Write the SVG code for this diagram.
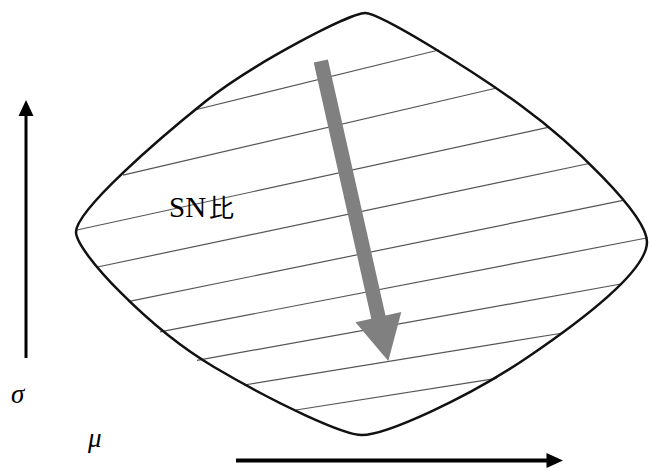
<svg xmlns="http://www.w3.org/2000/svg" width="649" height="469" viewBox="0 0 649 469">
  <style>
    .outline { fill: none; stroke: #111; stroke-width: 2.5; stroke-linejoin: round; }
    .hatch { stroke: #555; stroke-width: 1.2; fill: none; }
    .axis { stroke: #000; fill: none; }
    .lbl { font-family: "Liberation Serif", "Noto Sans CJK JP", serif; fill: #000; }
    .greek { font-family: "Liberation Serif", "DejaVu Serif", serif; font-style: italic; fill: #000; }
  </style>
  <rect x="0" y="0" width="649" height="469" fill="#fff"/>
  <g id="region">
    <g id="hatching">
      <line class="hatch" x1="194.5" y1="110" x2="438.7" y2="50"/>
      <line class="hatch" x1="123" y1="175.2" x2="496.7" y2="88"/>
      <line class="hatch" x1="77" y1="230" x2="548" y2="127.4"/>
      <line class="hatch" x1="97.5" y1="267" x2="589" y2="163.5"/>
      <line class="hatch" x1="128" y1="301.7" x2="623" y2="200.4"/>
      <line class="hatch" x1="160" y1="331.9" x2="646.5" y2="238"/>
      <line class="hatch" x1="197" y1="360.3" x2="621" y2="284"/>
      <line class="hatch" x1="244" y1="385" x2="563" y2="333"/>
      <line class="hatch" x1="296" y1="410" x2="496.7" y2="378.3"/>
    </g>
    <path class="outline" d="M76,232 C76,210 159.2,138.5 206,101 C253,63.5 350,13 365,13 C380,13 473,70.6 521.5,106 C570,141.4 647,214 647,242 C647,272 577.6,323.3 528,357 C466,399.2 385,435 362,435 C344,435 278.6,405.1 214,367 C149.4,328.9 76,252 76,232 Z"/>
    <text class="lbl" x="169" y="217" font-size="29">SN<tspan dx="3" font-size="25">比</tspan></text>
  </g>
  <g id="trend-arrow">
    <polygon fill="#808080" points="327.9,59.4 385.5,315.5 401.3,311.9 388.3,361 355.5,322.3 371.3,318.7 313.7,62.6"/>
  </g>
  <g id="connectors">
    <g id="sigma-axis">
      <line class="axis" x1="26" y1="358" x2="26" y2="114" stroke-width="3"/>
      <polygon points="26,100 33.5,116 18.5,116" fill="#000"/>
    </g>
    <g id="mu-axis">
      <line class="axis" x1="236" y1="460.5" x2="548" y2="460.5" stroke-width="4"/>
      <polygon points="563,460.5 546.5,453 546.5,468" fill="#000"/>
    </g>
  </g>
  <text class="greek" x="11" y="403" font-size="27">σ</text>
  <text class="greek" x="88" y="447" font-size="27">μ</text>
</svg>
